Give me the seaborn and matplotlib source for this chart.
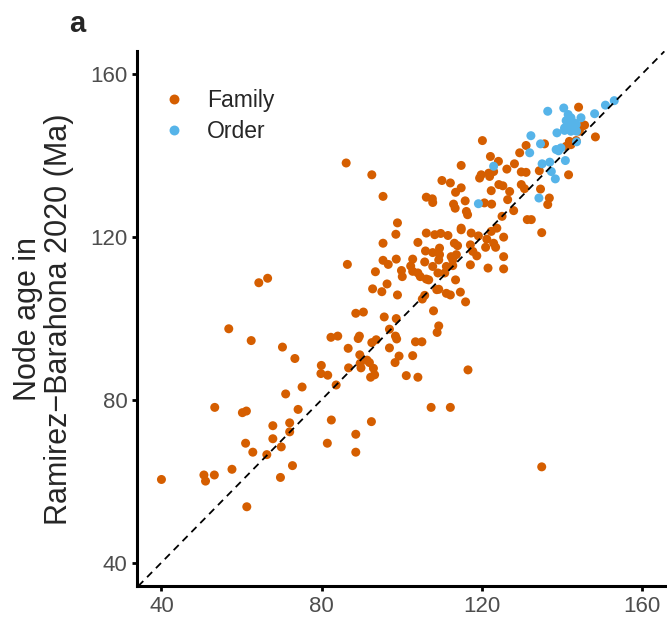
import numpy as np
import pandas as pd
import matplotlib
matplotlib.use("Agg")
import matplotlib.pyplot as plt
import seaborn as sns

# Node ages (Ma): x = this study, y = Ramirez-Barahona 2020
family_x = [40.0, 50.6, 51.0, 53.2, 57.6, 61.0, 62.8, 61.3, 66.3, 67.8, 67.8, 69.9, 69.7, 72.0,
            72.0, 72.7, 81.4, 82.4, 88.5, 88.5, 92.4, 64.3, 66.5, 56.8, 62.4, 70.2, 73.3, 79.9,
            79.8, 81.5, 75.1, 71.0, 53.3, 60.2, 61.2, 74.1, 86.4, 95.3, 98.5, 95.3, 96.6, 98.6,
            93.4, 96.3, 92.7, 95.0, 98.9, 88.5, 90.4, 95.6, 98.6, 96.9, 82.3, 84.0, 89.1, 89.4,
            92.5, 93.6, 86.6, 96.9, 98.4, 98.7, 89.5, 91.3, 89.6, 91.9, 86.7, 89.8, 92.9, 93.2,
            92.2, 98.3, 99.3, 83.6, 86.1, 92.5, 95.3, 98.9, 99.9, 100.1, 102.2, 105.7, 105.1, 103.4,
            105.0, 102.7, 101.1, 104.0, 106.1, 108.2, 109.7, 111.5, 114.8, 117.3, 119.1, 121.2, 122.3, 125.4,
            104.0, 113.1, 113.9, 117.1, 120.9, 122.9, 123.4, 105.9, 107.7, 109.4, 109.4, 112.3, 113.6, 117.7,
            118.7, 102.7, 105.7, 107.7, 109.2, 112.7, 112.7, 111.1, 117.1, 125.4, 121.5, 125.4, 102.7, 104.0,
            104.6, 106.1, 106.7, 109.0, 110.7, 113.4, 109.2, 108.7, 111.1, 112.1, 114.6, 115.9, 107.9, 109.2,
            108.8, 134.9, 116.5, 107.3, 112.1, 120.1, 122.1, 122.9, 121.9, 119.8, 119.4, 121.7, 114.8, 126.2,
            128.1, 129.4, 131.0, 129.8, 131.0, 110.0, 112.1, 114.8, 113.4, 122.3, 124.2, 125.2, 126.9, 129.8,
            130.6, 106.1, 107.6, 107.7, 115.8, 112.9, 113.3, 120.6, 122.4, 126.4, 127.9, 116.1, 116.4, 125.0,
            123.7, 114.8, 144.1, 145.0, 145.6, 144.3, 148.3, 135.6, 141.8, 142.2, 141.0, 143.5, 124.1, 141.6,
            134.6, 136.8, 136.4, 131.3, 132.3, 134.3, 134.9]
family_y = [60.4, 61.5, 60.0, 61.5, 62.9, 69.3, 67.1, 53.7, 66.5, 73.6, 70.4, 68.4, 60.9, 74.3,
            72.1, 63.8, 69.3, 75.0, 71.5, 67.1, 74.6, 108.7, 109.8, 97.4, 94.5, 92.9, 90.1, 88.4,
            86.4, 86.0, 83.1, 81.4, 78.1, 76.8, 77.2, 77.6, 113.2, 118.4, 120.6, 114.2, 113.2, 114.5,
            111.4, 108.4, 107.2, 106.5, 105.7, 101.2, 101.5, 100.3, 99.9, 97.3, 95.3, 95.6, 95.0, 95.6,
            94.0, 94.7, 92.6, 92.7, 95.6, 94.9, 91.0, 89.7, 88.9, 89.1, 87.8, 87.8, 87.7, 86.1,
            85.5, 89.1, 90.7, 83.6, 138.1, 135.2, 129.9, 123.4, 111.7, 110.2, 112.8, 105.6, 104.7, 94.2,
            94.2, 90.8, 85.9, 85.5, 120.9, 120.5, 120.8, 120.3, 121.7, 120.9, 120.2, 119.4, 121.3, 119.9,
            118.6, 118.4, 117.8, 118.0, 117.4, 118.4, 117.4, 116.5, 116.1, 117.2, 115.6, 115.1, 115.6, 116.4,
            115.3, 114.5, 113.8, 112.7, 114.3, 114.3, 112.9, 112.7, 113.1, 115.1, 112.3, 112.1, 111.5, 111.1,
            110.2, 109.6, 109.4, 111.1, 111.1, 109.4, 107.1, 107.0, 106.1, 105.7, 106.4, 104.0, 101.8, 98.1,
            96.5, 121.0, 87.3, 78.1, 78.1, 143.6, 139.7, 136.0, 134.8, 135.2, 134.4, 135.6, 137.5, 136.6,
            137.9, 140.6, 142.4, 135.9, 135.8, 133.8, 133.2, 132.0, 130.9, 131.3, 132.8, 132.5, 131.1, 132.8,
            131.8, 129.7, 129.3, 128.4, 128.8, 128.0, 127.0, 128.3, 128.0, 129.1, 126.4, 126.2, 125.4, 125.0,
            122.1, 122.1, 151.8, 147.1, 147.4, 145.9, 144.5, 142.8, 143.4, 142.6, 142.2, 143.6, 138.5, 135.2,
            131.7, 129.5, 127.9, 124.2, 124.2, 136.2, 63.5]

order_x = [122.9, 132.2, 131.9, 119.1, 136.4, 140.4, 148.1, 150.8, 153.0, 141.0, 142.2, 143.1, 140.6,
           141.8, 143.5, 144.7, 142.2, 140.6, 143.6, 138.7, 134.6, 138.5, 139.7, 139.1, 135.0, 136.9,
           137.3, 138.3, 140.8, 134.2, 143.6, 141.5, 142.5]
order_y = [137.3, 144.8, 140.6, 128.1, 150.8, 151.6, 150.2, 152.3, 153.4, 148.5, 149.2, 147.9, 146.7,
           146.7, 147.5, 149.2, 145.9, 146.1, 145.9, 145.5, 142.8, 141.4, 141.8, 141.1, 137.9, 138.3,
           136.0, 134.2, 138.7, 129.5, 143.3, 150.0, 148.0]

levels = ["Family", "Order"]
colors = {"Family": "#D55E00", "Order": "#56B4E9"}

df = pd.DataFrame({
    "x": family_x + order_x,
    "y": family_y + order_y,
    "level": ["Family"] * len(family_x) + ["Order"] * len(order_x),
})

sns.set_style("ticks")
plt.rcParams["font.family"] = ["Liberation Sans", "DejaVu Sans"]

fig = plt.figure(figsize=(6.67, 6.19), dpi=100)
ax = fig.add_axes([0.206, 0.053, 0.793, 0.864])

ax.axline((40, 40), slope=1, color="black", linestyle=(0, (4, 3)), linewidth=1.3, zorder=3)
sns.scatterplot(data=df, x="x", y="y", hue="level", hue_order=levels, palette=colors,
                s=42, linewidth=0, alpha=1, ax=ax, zorder=2)

ax.set_xlim(34, 166)
ax.set_ylim(34.2, 165.5)
ax.set_xticks([40, 80, 120, 160])
ax.set_yticks([40, 80, 120, 160])
ax.set_xlabel("")
ax.set_ylabel("Node age in\nRamirez\u2212Barahona 2020 (Ma)", fontsize=22, labelpad=12,
              linespacing=1.05)
ax.tick_params(axis="both", labelsize=16, colors="black", labelcolor="#4D4D4D",
               width=2, length=3.5)
for side in ["top", "right"]:
    ax.spines[side].set_visible(False)
for side in ["left", "bottom"]:
    ax.spines[side].set_linewidth(2.2)
    ax.spines[side].set_color("black")

leg = ax.legend(title=None, frameon=False, fontsize=16.5, loc="upper left",
                bbox_to_anchor=(0.0, 0.963), handletextpad=0.65, labelspacing=0.33,
                markerscale=1.1, borderaxespad=0.4, handlelength=1.6)

fig.text(0.103, 0.962, "a", fontsize=21, fontweight="bold", ha="left", va="center")

fig.savefig("out.png", dpi=100)
